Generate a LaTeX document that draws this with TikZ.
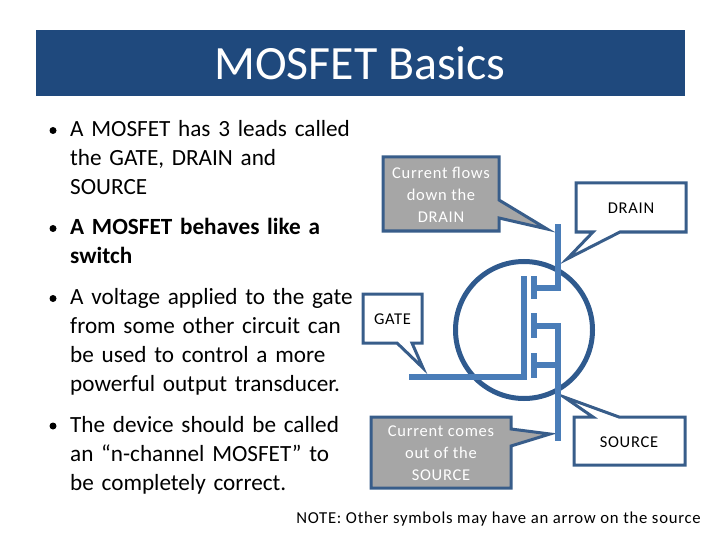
\documentclass[tikz,border=0pt]{standalone}
\usepackage{fontspec}
\setmainfont{Carlito}
\newfontfamily\calloutfont[LetterSpace=4.5]{Carlito}
\definecolor{titleblue}{HTML}{1F497D}
\definecolor{ringblue}{HTML}{2F5A8E}
\definecolor{edgeblue}{HTML}{385D8A}
\definecolor{fetblue}{HTML}{4A7DB8}
\definecolor{boxgrey}{HTML}{A6A6A6}
\begin{document}
\begin{tikzpicture}[x=1pt,y=-1pt,
  bullettext/.style={anchor=north west,align=left,inner sep=0pt,text width=300pt,font=\fontsize{23.2}{29}\selectfont},
  bulletdot/.style={circle,fill=black,inner sep=0pt,minimum size=7pt},
  callout/.style={draw=edgeblue,line width=3pt,line join=miter,miter limit=10},
  greycall/.style={callout,fill=boxgrey},
  whitecall/.style={callout,fill=white},
  calltext/.style={align=center,inner sep=0pt,font=\calloutfont\fontsize{16.5}{22}\selectfont},
  fetline/.style={draw=fetblue,line width=6pt}]
\useasboundingbox (0,0) rectangle (720,540);
\node [fill=titleblue,minimum width=649pt,minimum height=66pt,inner sep=0pt] (header) at (360.5,63) {};
\node [text=white,font=\fontsize{47.8}{50}\selectfont] (title) at (360,63.5) {MOSFET Basics};
% bullets
\foreach \pos/\name/\txt in {
  120.5/leads/{A MOSFET has 3 leads called\\the GATE, DRAIN and\\SOURCE},
  218.5/switch/{\textbf{A MOSFET behaves like a}\\\textbf{switch}},
  288.5/voltage/{A voltage applied to the gate\\from some other circuit can\\be used to control a more\\powerful output transducer.},
  416/device/{The device should be called\\an “n-channel MOSFET” to\\be completely correct.}}
{ \node [bullettext] (\name) at (70,\pos) {\txt};
  \node [bulletdot] (dot\name) at (53,\pos+10) {}; }
% callouts
\draw [greycall] (383,157) -- (499,157) -- (499,200) -- (547,229) -- (499,218) -- (499,231) -- (383,231) -- cycle;
\draw [whitecall] (576,183) -- (686,183) -- (686,232) -- (620,232) -- (567,259) -- (593,232) -- (576,232) -- cycle;
\draw [whitecall] (363,294) -- (422,294) -- (422,343) -- (412,343) -- (423,368) -- (397,343) -- (363,343) -- cycle;
\draw [greycall] (371,417) -- (511,417) -- (511,429) -- (550,434) -- (511,446) -- (511,488) -- (371,488) -- cycle;
\draw [whitecall] (574,417) -- (593,417) -- (564,397) -- (619,417) -- (685,417) -- (685,465) -- (574,465) -- cycle;
\node [calltext,text=white] (flows) at (441,194.5) {Current flows\\down the\\DRAIN};
\node [calltext] (drain) at (631,208) {DRAIN};
\node [calltext] (gate) at (392.5,319) {GATE};
\node [calltext,text=white] (comes) at (441,453.5) {Current comes\\out of the\\SOURCE};
\node [calltext] (source) at (629,442) {SOURCE};
% symbol
\node [circle,draw=ringblue,line width=5pt,minimum size=137pt,inner sep=0pt] (ring) at (524,330) {};
\draw [fetline] (409,377) -- (524,377) -- (524,276);
\foreach \top/\bot in {276/299,313/338,353/378}
{ \draw [fetline] (534,\top) -- (534,\bot); }
\draw [fetline] (536,288) -- (558,288) -- (558,224);
\draw [fetline] (536,326) -- (558,326) -- (558,441);
\draw [fetline] (536,365) -- (558,365);
\node [anchor=east,inner sep=0pt,font=\calloutfont\fontsize{16.7}{20}\selectfont] (note) at (701,519) {NOTE: Other symbols may have an arrow on the source};
\end{tikzpicture}
\end{document}
